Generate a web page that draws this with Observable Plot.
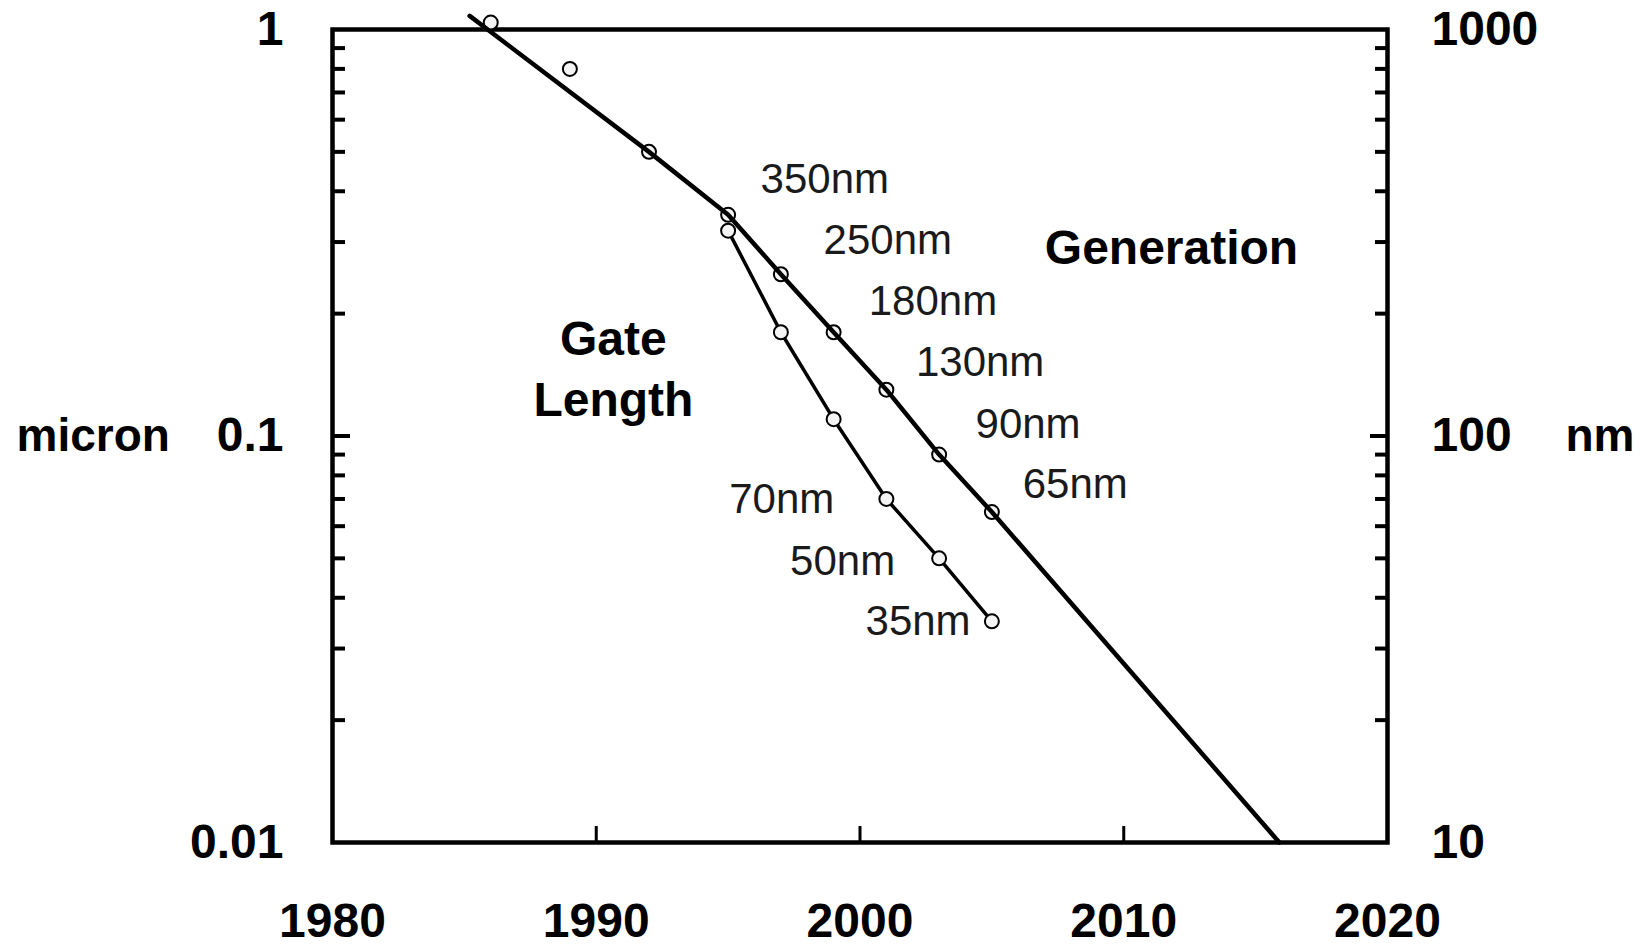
<!DOCTYPE html>
<html>
<head>
<meta charset="utf-8">
<script src="https://cdn.jsdelivr.net/npm/d3@7"></script>
<script src="https://cdn.jsdelivr.net/npm/@observablehq/plot@0.6"></script>
<style>
  html, body { margin: 0; padding: 0; background: #ffffff; }
  #chart { width: 1644px; height: 944px; }
</style>
</head>
<body>
<div id="chart"></div>
<script>
// Technology generation (node) and physical gate length, in microns
const genYears   = [1986, 1989, 1992, 1995, 1997, 1999, 2001, 2003, 2005];
const genMicron  = [1.04, 0.8, 0.5, 0.35, 0.25, 0.18, 0.13, 0.09, 0.065];

// Generation trend line (back-cast before 1992, projected past 2005)
const trendYears  = [1985.2, 1992, 1995, 1997, 1999, 2001, 2003, 2005, 2015.9];
const trendMicron = [1.08, 0.5, 0.35, 0.25, 0.18, 0.13, 0.09, 0.065, 0.01];

const gateYears  = [1995, 1997, 1999, 2001, 2003, 2005];
const gateMicron = [0.32, 0.18, 0.11, 0.07, 0.05, 0.035];

// Node name annotations
const nodeNames  = ["350nm", "250nm", "180nm", "130nm", "90nm", "65nm", "70nm", "50nm", "35nm"];
const nodeYears  = [1996.23, 1998.62, 2000.33, 2002.12, 2004.38, 2006.17, 1995.04, 1997.35, 2000.21];
const nodeMicron = [0.428, 0.303, 0.2144, 0.152, 0.107, 0.0758, 0.0697, 0.0491, 0.035];

// Series titles
const seriesNames  = ["Gate\nLength", "Generation"];
const seriesYears  = [1990.65, 2011.81];
const seriesMicron = [0.1486, 0.296];

// Axes
const xTicks       = [1980, 1990, 2000, 2010, 2020];
const xTickLabels  = ["1980", "1990", "2000", "2010", "2020"];
const xInnerTicks  = [1990, 2000, 2010];
const yTicks       = [0.01, 0.1, 1];
const micronLabels = ["0.01", "0.1", "1"];
const nmLabels     = ["10", "100", "1000"];
const yMinorTicks  = [0.02, 0.03, 0.04, 0.05, 0.06, 0.07, 0.08, 0.09,
                      0.2, 0.3, 0.4, 0.5, 0.6, 0.7, 0.8, 0.9];
const yMajorInner  = [0.1];
const unitLeft  = "micron";
const unitRight = "nm";

const FONT = "'Liberation Sans', Arial, Helvetica, sans-serif";

const zip = (xs, ys, extra) => xs.map((year, i) => ({year, micron: ys[i], ...(extra ? {label: extra[i]} : {})}));
const gen   = zip(genYears, genMicron);
const trend = zip(trendYears, trendMicron);
const gate  = zip(gateYears, gateMicron);
const nodes = zip(nodeYears, nodeMicron, nodeNames);
const titles = zip(seriesYears, seriesMicron, seriesNames);

const xLabel = new Map(xTicks.map((d, i) => [d, xTickLabels[i]]));
const micronLabel = new Map(yTicks.map((d, i) => [d, micronLabels[i]]));
const nmLabel = new Map(yTicks.map((d, i) => [d, nmLabels[i]]));

const chart = Plot.plot({
  width: 1644,
  height: 944,
  marginLeft: 332,
  marginRight: 257,
  marginTop: 29,
  marginBottom: 102,
  style: {fontFamily: FONT, background: "#ffffff", color: "#000", overflow: "visible"},
  x: {domain: [1980, 2020]},
  y: {type: "log", domain: [0.01, 1]},
  marks: [
    // inward minor ticks on both vertical sides
    Plot.axisY({anchor: "left", ticks: yMinorTicks, tickSize: 13, dx: 13, fill: "none", strokeWidth: 4, label: null}),
    Plot.axisY({anchor: "left", ticks: yMajorInner, tickSize: 18, dx: 18, fill: "none", strokeWidth: 4, label: null}),
    Plot.axisY({anchor: "right", ticks: yMinorTicks, tickSize: 13, dx: -13, fill: "none", strokeWidth: 4, label: null}),
    Plot.axisY({anchor: "right", ticks: yMajorInner, tickSize: 18, dx: -18, fill: "none", strokeWidth: 4, label: null}),
    // inward year ticks on the bottom edge
    Plot.axisX({anchor: "bottom", ticks: xInnerTicks, tickSize: 16, dy: -16, fill: "none", strokeWidth: 3, label: null}),
    // tick labels
    Plot.axisY({anchor: "left", ticks: yTicks, tickSize: 0, tickPadding: 49,
      tickFormat: d => micronLabel.get(d), fontSize: 48, fontWeight: "bold", label: null}),
    Plot.axisY({anchor: "right", ticks: yTicks, tickSize: 0, tickPadding: 44,
      tickFormat: d => nmLabel.get(d), fontSize: 48, fontWeight: "bold", label: null}),
    Plot.axisX({anchor: "bottom", ticks: xTicks, tickSize: 0, tickPadding: 60,
      tickFormat: d => xLabel.get(d), fontSize: 48, fontWeight: "bold", label: null}),
    Plot.frame({stroke: "#000", strokeWidth: 4.5}),
    // unit titles beside the axes
    Plot.text([{micron: 0.1, label: unitLeft}], {y: "micron", text: "label", frameAnchor: "left",
      dx: -316, textAnchor: "start", fontSize: 46, fontWeight: "bold", fill: "#000"}),
    Plot.text([{micron: 0.1, label: unitRight}], {y: "micron", text: "label", frameAnchor: "right",
      dx: 178, textAnchor: "start", fontSize: 46, fontWeight: "bold", fill: "#000"}),
    // generation: markers under the trend line
    Plot.dot(gen, {x: "year", y: "micron", r: 7, stroke: "#000", strokeWidth: 2, fill: "#f4f4f4"}),
    Plot.line(trend, {x: "year", y: "micron", stroke: "#000", strokeWidth: 4.5}),
    // gate length: line then markers
    Plot.line(gate, {x: "year", y: "micron", stroke: "#000", strokeWidth: 3.5}),
    Plot.dot(gate, {x: "year", y: "micron", r: 7, stroke: "#000", strokeWidth: 2, fill: "#f4f4f4"}),
    // node names
    Plot.text(nodes, {x: "year", y: "micron", text: "label", textAnchor: "start",
      fontSize: 42, fill: "#1a1a1a"}),
    // series titles
    Plot.text(titles, {x: "year", y: "micron", text: "label", textAnchor: "middle",
      lineHeight: 1.27, fontSize: 48, fontWeight: "bold", fill: "#000"})
  ]
});

document.getElementById("chart").appendChild(chart);
</script>
</body>
</html>
